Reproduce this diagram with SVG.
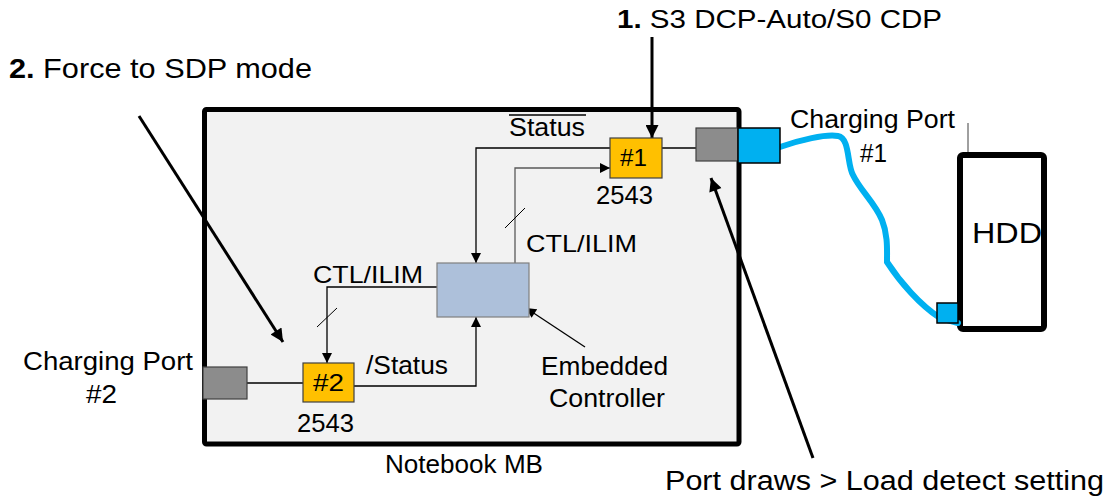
<svg xmlns="http://www.w3.org/2000/svg" width="1109" height="499" viewBox="0 0 1109 499">
<style>
text{font-family:"Liberation Sans",Arial,sans-serif;fill:#000}
.thin{fill:none;stroke:#000;stroke-width:1.3}
.thick{fill:none;stroke:#000;stroke-width:3}
.chip{fill:#ffc000;stroke:#404040;stroke-width:1.2}
.gport{fill:#8c8c8c;stroke:#404040;stroke-width:1.2}
.bport{fill:#00b0f0;stroke:#000;stroke-width:1.5}
</style>
<defs>
<marker id="ah" viewBox="0 0 10 10" refX="10" refY="5" markerWidth="11" markerHeight="10" markerUnits="userSpaceOnUse" orient="auto">
<path d="M0,0 L10,5 L0,10 z" fill="#000"/>
</marker>
<marker id="ahb" viewBox="0 0 10 10" refX="10" refY="5" markerWidth="16" markerHeight="13" markerUnits="userSpaceOnUse" orient="auto">
<path d="M0,0 L10,5 L0,10 z" fill="#000"/>
</marker>
</defs>
<rect width="1109" height="499" fill="#fff"/>

<g id="notebook-mb">
<rect x="204.5" y="109.5" width="534.5" height="334.5" rx="2" fill="#f2f2f2" stroke="#000" stroke-width="5"/>
<text x="385" y="473" font-size="25" textLength="158" lengthAdjust="spacingAndGlyphs">Notebook MB</text>
</g>

<g id="hdd">
<line x1="968" y1="123" x2="968" y2="152" stroke="#404040" stroke-width="1"/>
<rect x="960" y="155" width="84" height="174" rx="3" fill="#fff" stroke="#000" stroke-width="6"/>
<text x="972" y="243" font-size="30" textLength="70" lengthAdjust="spacingAndGlyphs">HDD</text>
</g>

<g id="connectors">
<path class="thin" d="M610,148 H476 V263" marker-end="url(#ah)"/>
<path d="M515,263 V168 H610" fill="none" stroke="#595959" stroke-width="1.3" marker-end="url(#ah)"/>
<line x1="505" y1="228" x2="525" y2="208" stroke="#000" stroke-width="1"/>
<path class="thin" d="M662,148 H696"/>
<path class="thin" d="M437,287 H327 V363" marker-end="url(#ah)"/>
<line x1="317" y1="327" x2="337" y2="308" stroke="#000" stroke-width="1"/>
<path class="thin" d="M354,386 H476 V317" marker-end="url(#ah)"/>
<path class="thin" d="M247,383 H303"/>
<path class="thin" d="M585,347 L526,308" marker-end="url(#ah)"/>
<path class="thick" d="M652,37 V138" marker-end="url(#ahb)"/>
<path class="thick" d="M139,116 L283,342" marker-end="url(#ahb)"/>
<path class="thick" d="M813,458 L711,178" marker-end="url(#ahb)"/>
<path d="M780,147 C800,140 825,134 838,136 C850,138 847,165 853,175 C860,190 875,203 882,220 C888,235 887,250 887,262 C900,282 920,305 940,318 L958,323" fill="none" stroke="#00b0f0" stroke-width="6" stroke-linecap="round"/>
</g>

<g id="chip1">
<rect class="chip" x="610" y="138" width="52" height="40"/>
<text x="620" y="166" font-size="24" textLength="27" lengthAdjust="spacingAndGlyphs">#1</text>
<text x="596" y="204" font-size="25" textLength="57" lengthAdjust="spacingAndGlyphs">2543</text>
</g>

<g id="chip2">
<rect class="chip" x="303" y="363" width="51" height="39"/>
<text x="313" y="391" font-size="24" textLength="31" lengthAdjust="spacingAndGlyphs">#2</text>
<text x="297" y="432" font-size="25" textLength="57" lengthAdjust="spacingAndGlyphs">2543</text>
</g>

<g id="embedded-controller">
<rect x="437" y="263" width="92" height="54" fill="#adc0da" stroke="#7f7f7f" stroke-width="1.2"/>
<text x="541" y="375" font-size="25" textLength="127" lengthAdjust="spacingAndGlyphs">Embedded</text>
<text x="549" y="407" font-size="25" textLength="116" lengthAdjust="spacingAndGlyphs">Controller</text>
</g>

<g id="port1">
<rect class="gport" x="696" y="128" width="42" height="33"/>
<rect class="bport" x="738" y="128" width="42" height="35"/>
<text x="790" y="128" font-size="25" textLength="165" lengthAdjust="spacingAndGlyphs">Charging Port</text>
<text x="860" y="162" font-size="25" textLength="27" lengthAdjust="spacingAndGlyphs">#1</text>
</g>

<g id="hdd-plug">
<rect class="bport" x="937" y="303" width="21" height="20"/>
</g>

<g id="port2">
<rect class="gport" x="203" y="367" width="44" height="32"/>
<text x="23" y="370" font-size="25" textLength="170" lengthAdjust="spacingAndGlyphs">Charging Port</text>
<text x="86" y="403" font-size="25" textLength="31" lengthAdjust="spacingAndGlyphs">#2</text>
</g>

<g id="labels">
<text x="509" y="136" font-size="25" textLength="76" lengthAdjust="spacingAndGlyphs">Status</text>
<line x1="509" y1="115" x2="586" y2="115" stroke="#000" stroke-width="1.5"/>
<text x="526" y="252" font-size="24" textLength="111" lengthAdjust="spacingAndGlyphs">CTL/ILIM</text>
<text x="313" y="283" font-size="24" textLength="110" lengthAdjust="spacingAndGlyphs">CTL/ILIM</text>
<text x="366" y="374" font-size="25" textLength="82" lengthAdjust="spacingAndGlyphs">/Status</text>
<text x="617" y="28" font-size="26" textLength="325" lengthAdjust="spacingAndGlyphs"><tspan font-weight="bold">1.</tspan> S3 DCP-Auto/S0 CDP</text>
<text x="9" y="78" font-size="28" textLength="303" lengthAdjust="spacingAndGlyphs"><tspan font-weight="bold">2.</tspan> Force to SDP mode</text>
<text x="665" y="490" font-size="27" textLength="439" lengthAdjust="spacingAndGlyphs">Port draws &gt; Load detect setting</text>
</g>
</svg>
